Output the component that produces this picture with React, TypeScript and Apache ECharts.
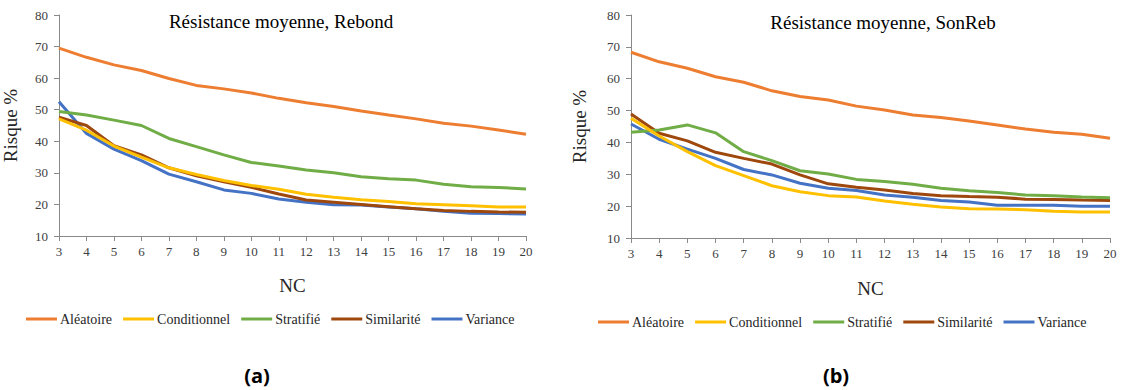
import React, { useEffect, useRef } from "react";
import * as echarts from "echarts";

const categories = ["3", "4", "5", "6", "7", "8", "9", "10", "11", "12", "13", "14", "15", "16", "17", "18", "19", "20"];
const seriesNames = ["Aléatoire", "Conditionnel", "Stratifié", "Similarité", "Variance"];
const seriesColors = ["#ED7D31", "#FFC000", "#70AD47", "#9E480E", "#4472C4"];
const yTicks = [10, 20, 30, 40, 50, 60, 70, 80];

// (a) Résistance moyenne, Rebond
const rebondAleatoire = [69.5, 66.6, 64.2, 62.4, 59.9, 57.7, 56.6, 55.3, 53.6, 52.2, 51.0, 49.6, 48.3, 47.1, 45.7, 44.8, 43.6, 42.2];
const rebondConditionnel = [47.1, 43.5, 38.5, 35.0, 31.6, 29.5, 27.6, 26.0, 24.8, 23.2, 22.3, 21.5, 20.9, 20.2, 19.9, 19.6, 19.2, 19.2];
const rebondStratifie = [49.4, 48.3, 46.7, 45.0, 40.9, 38.3, 35.7, 33.3, 32.2, 30.9, 30.0, 28.8, 28.1, 27.7, 26.4, 25.6, 25.4, 24.9];
const rebondSimilarite = [47.6, 45.0, 38.6, 35.7, 31.6, 29.1, 27.2, 25.4, 23.3, 21.4, 20.7, 20.0, 19.3, 18.6, 18.1, 17.8, 17.6, 17.5];
const rebondVariance = [52.5, 42.5, 37.5, 33.9, 29.6, 27.2, 24.6, 23.5, 21.7, 20.7, 19.9, 19.8, 19.2, 18.6, 17.8, 17.2, 17.1, 17.0];

// (b) Résistance moyenne, SonReb
const sonrebAleatoire = [68.3, 65.3, 63.3, 60.6, 58.9, 56.2, 54.4, 53.3, 51.4, 50.2, 48.6, 47.8, 46.7, 45.5, 44.2, 43.2, 42.6, 41.3];
const sonrebConditionnel = [47.6, 42.0, 37.1, 32.7, 29.6, 26.4, 24.5, 23.3, 22.9, 21.6, 20.6, 19.7, 19.2, 19.1, 18.9, 18.4, 18.2, 18.2];
const sonrebStratifie = [43.2, 43.9, 45.5, 43.0, 37.1, 34.3, 31.1, 30.1, 28.4, 27.7, 26.9, 25.6, 24.8, 24.3, 23.5, 23.3, 22.9, 22.6];
const sonrebSimilarite = [48.9, 42.9, 40.5, 36.9, 35.0, 33.2, 29.8, 27.0, 25.9, 25.1, 24.0, 23.3, 23.0, 22.8, 22.2, 22.1, 21.9, 21.8];
const sonrebVariance = [45.8, 41.0, 37.9, 35.0, 31.5, 29.8, 27.2, 25.6, 24.9, 23.5, 22.8, 21.8, 21.3, 20.3, 20.3, 20.3, 20.0, 20.0];

const rebondData = [rebondAleatoire, rebondConditionnel, rebondStratifie, rebondSimilarite, rebondVariance];
const sonrebData = [sonrebAleatoire, sonrebConditionnel, sonrebStratifie, sonrebSimilarite, sonrebVariance];

const SERIF = "Liberation Serif";

export default function App() {
  const ref = useRef<HTMLDivElement>(null);
  useEffect(() => {
    if (!ref.current) return;
    const chart = echarts.init(ref.current, undefined, { renderer: "svg" });
    const axisColor = "#898989";
    const makeX = (gridIndex: number, gap: number) => ({
      type: "category",
      gridIndex,
      data: categories,
      boundaryGap: false,
      name: "NC",
      nameLocation: "middle",
      nameGap: gap,
      nameTextStyle: { fontFamily: SERIF, fontSize: 19, color: "#262626" },
      axisLine: { lineStyle: { color: axisColor, width: 1 } },
      axisTick: { length: 5, lineStyle: { color: axisColor } },
      axisLabel: { fontFamily: SERIF, fontSize: 13, color: "#404040", margin: 9, interval: 0 },
      splitLine: { show: false },
    });
    const makeY = (gridIndex: number, gap: number) => ({
      type: "value",
      gridIndex,
      min: yTicks[0],
      max: yTicks[yTicks.length - 1],
      interval: 10,
      name: "Risque %",
      nameLocation: "middle",
      nameGap: gap,
      nameRotate: 90,
      nameTextStyle: { fontFamily: SERIF, fontSize: 19, color: "#262626" },
      axisLine: { show: true, lineStyle: { color: axisColor, width: 1 } },
      axisTick: { show: true, length: 5, lineStyle: { color: axisColor } },
      axisLabel: { fontFamily: SERIF, fontSize: 13, color: "#404040", margin: 11 },
      splitLine: { show: false },
    });
    const series: any[] = [];
    [rebondData, sonrebData].forEach((group, gi) => {
      group.forEach((vals, i) => {
        series.push({
          type: "line",
          name: seriesNames[i],
          xAxisIndex: gi,
          yAxisIndex: gi,
          data: vals,
          showSymbol: false,
          symbol: "none",
          lineStyle: { width: 3, color: seriesColors[i] },
          itemStyle: { color: seriesColors[i] },
          z: 10 - i,
        });
      });
    });
    const legendBase = {
      data: seriesNames,
      icon: "rect",
      itemWidth: 31,
      itemHeight: 3,
      itemGap: 11,
      padding: 0,
      textStyle: { fontFamily: SERIF, fontSize: 14, color: "#262626", padding: [0, 0, 0, -2] },
      selectedMode: false,
    };
    chart.setOption({
      animation: false,
      backgroundColor: "#ffffff",
      color: seriesColors,
      grid: [
        { left: 59, top: 15, width: 467, height: 221 },
        { left: 631, top: 15, width: 479, height: 223 },
      ],
      xAxis: [makeX(0, 40), makeX(1, 41)],
      yAxis: [makeY(0, 39), makeY(1, 42)],
      legend: [
        { ...legendBase, left: 26, top: 312 },
        { ...legendBase, left: 598, top: 315 },
      ],
      series,
      graphic: [
        { type: "text", x: 281, y: 21, style: { text: "Résistance moyenne, Rebond", fontFamily: SERIF, fontSize: 19, fill: "#000", align: "center", verticalAlign: "middle" } },
        { type: "text", x: 883, y: 22, style: { text: "Résistance moyenne, SonReb", fontFamily: SERIF, fontSize: 19, fill: "#000", align: "center", verticalAlign: "middle" } },
        { type: "text", x: 257, y: 375, style: { text: "(a)", fontFamily: "Open Sans", fontWeight: "bold", fontSize: 20, fill: "#000", align: "center", verticalAlign: "middle" } },
        { type: "text", x: 836, y: 375, style: { text: "(b)", fontFamily: "Open Sans", fontWeight: "bold", fontSize: 20, fill: "#000", align: "center", verticalAlign: "middle" } },
      ],
    });
    return () => chart.dispose();
  }, []);
  return <div ref={ref} style={{ position: "absolute", left: 0, top: 0, width: 1122, height: 390 }} />;
}
